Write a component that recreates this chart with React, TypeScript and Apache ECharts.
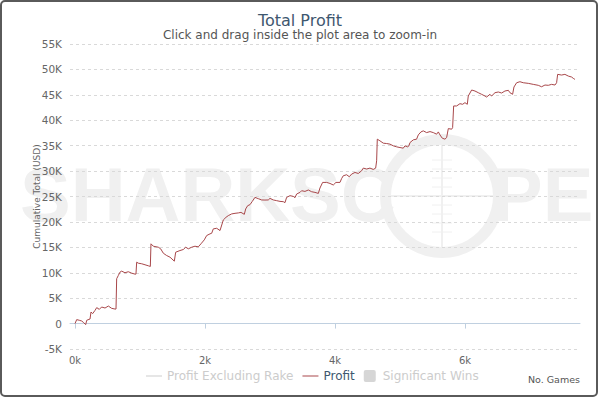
import React, { useEffect, useRef } from "react";
import * as echarts from "echarts";

const title = "Total Profit";
const subtitle = "Click and drag inside the plot area to zoom-in";
const yAxisName = "Cumulative Total (USD)";
const xAxisName = "No. Games";
const legendNames = ["Profit Excluding Rake", "Profit", "Significant Wins"];
const xTicks = [0, 2000, 4000, 6000];

const games = [
  0, 26, 66, 103, 128, 165, 180, 231, 246, 272, 308, 334, 374, 410, 462, 513, 564, 615, 631, 641,
  667, 692, 718, 769, 820, 872, 923, 938, 949, 974, 1026, 1077, 1128, 1159, 1169, 1205, 1282, 1318,
  1359, 1410, 1462, 1528, 1549, 1615, 1666, 1703, 1744, 1795, 1846, 1897, 1938, 1989, 2026, 2077,
  2103, 2128, 2180, 2231, 2282, 2323, 2359, 2410, 2462, 2513, 2554, 2605, 2626, 2657, 2692, 2728,
  2769, 2820, 2872, 2923, 2974, 3000, 3051, 3103, 3154, 3205, 3231, 3256, 3308, 3359, 3385, 3410,
  3462, 3487, 3538, 3590, 3641, 3692, 3744, 3769, 3810, 3872, 3923, 3974, 4015, 4077, 4103, 4128,
  4179, 4220, 4257, 4308, 4359, 4410, 4436, 4487, 4538, 4590, 4626, 4641, 4651, 4692, 4744, 4795,
  4846, 4897, 4949, 5000, 5051, 5077, 5118, 5138, 5154, 5205, 5256, 5282, 5323, 5359, 5410, 5462,
  5513, 5564, 5590, 5615, 5651, 5692, 5718, 5744, 5795, 5810, 5826, 5872, 5923, 5964, 6000, 6036,
  6051, 6103, 6154, 6205, 6256, 6308, 6333, 6385, 6410, 6462, 6513, 6564, 6615, 6667, 6692, 6733,
  6754, 6795, 6846, 6897, 6974, 7051, 7128, 7179, 7231, 7282, 7333, 7385, 7410, 7426, 7487, 7538,
  7590, 7641, 7667, 7692,
];

const profit = [
  0, 780, 650, 510, 250, -200, 650, 900, 2270, 1960, 2600, 3140, 2800, 3260, 3060, 3450, 3000, 2860,
  2860, 8820, 9470, 10120, 10320, 10000, 10200, 9920, 9730, 9730, 12080, 11880, 11770, 11570, 11370,
  11240, 15690, 15220, 15020, 14710, 13840, 13390, 13060, 12280, 14040, 14370, 14570, 15020, 14710,
  15020, 15220, 15100, 15690, 16470, 17320, 17650, 17770, 18630, 18750, 18300, 20390, 20900, 21240,
  21570, 21690, 21770, 21880, 21490, 22550, 23200, 23390, 24040, 24830, 24570, 24320, 24300, 24320,
  24630, 24320, 24180, 24040, 23980, 23790, 24830, 25160, 25020, 24770, 25490, 25810, 26140, 26000,
  26280, 25940, 25810, 25610, 26670, 27770, 27770, 27570, 27260, 27770, 27770, 28550, 29080, 29280,
  28890, 29420, 29730, 29530, 30060, 30590, 30400, 30590, 30320, 30590, 32020, 36280, 35950, 35490,
  35420, 35300, 34970, 34770, 34630, 34510, 34970, 34770, 34970, 35610, 36140, 36280, 37120, 37710,
  37910, 37570, 37770, 37570, 37260, 37710, 37120, 36470, 36280, 36590, 38360, 38240, 38550, 42810,
  42810, 43260, 43140, 43460, 43140, 44770, 45950, 45750, 45420, 45100, 44770, 44570, 45100, 44770,
  45420, 45560, 45360, 45750, 45890, 45420, 45100, 46540, 47380, 47580, 47380, 47260, 47060, 46870,
  46590, 46930, 46870, 47060, 46930, 47380, 49030, 48890, 49030, 48690, 48500, 48240, 48040,
];

const FONT = "DejaVu Sans";
const WM = "#f0f0f0";

export default function App() {
  const ref = useRef<HTMLDivElement>(null);
  useEffect(() => {
    if (!ref.current) return;
    const chart = echarts.init(ref.current, undefined, { renderer: "svg" });
    const lineData = games.map((g, i) => [g, profit[i]]);
    const reticleTicks = [-36, -27, -18, -9, 9, 18, 27, 36].map((d) => ({
      type: "line",
      z: -1,
      silent: true,
      shape: { x1: 432, y1: 196 + d, x2: 452, y2: 196 + d },
      style: { stroke: WM, lineWidth: 1 },
    }));
    chart.setOption({
      animation: false,
      backgroundColor: "#ffffff",
      title: {
        text: title,
        subtext: subtitle,
        left: "center",
        top: 6,
        itemGap: 0,
        textStyle: { fontFamily: FONT, fontSize: 16, fontWeight: "normal", color: "#3E576F", lineHeight: 18 },
        subtextStyle: { fontFamily: FONT, fontSize: 12, color: "#555555", lineHeight: 12 },
      },
      legend: {
        left: 141,
        top: 365,
        itemWidth: 16,
        itemHeight: 12,
        itemGap: 9,
        inactiveColor: "#cccccc",
        textStyle: { fontFamily: FONT, fontSize: 12, color: "#3E576F" },
        selected: { [legendNames[0]]: false, [legendNames[2]]: false },
        data: [
          { name: legendNames[0], icon: "path://M0,0H16V1H0Z" },
          { name: legendNames[1], icon: "path://M0,0H16V1H0Z" },
          { name: legendNames[2], icon: "path://M2,0H10Q12,0 12,2V10Q12,12 10,12H2Q0,12 0,10V2Q0,0 2,0Z" },
        ],
      },
      grid: { left: 70, right: 20, top: 44, bottom: 49, containLabel: false },
      xAxis: {
        type: "value",
        min: -77,
        max: 7770,
        splitLine: { show: false },
        axisLine: { show: true, lineStyle: { color: "#C0D0E0", width: 1 } },
        axisTick: { show: true, length: 5, customValues: xTicks, lineStyle: { color: "#C0D0E0" } },
        axisLabel: {
          customValues: xTicks,
          margin: 6,
          fontFamily: FONT,
          fontSize: 10,
          color: "#666666",
          formatter: (v: number) => `${v / 1000}k`,
        },
      },
      yAxis: {
        type: "value",
        min: -5000,
        max: 55000,
        interval: 5000,
        name: yAxisName,
        nameLocation: "middle",
        nameRotate: 90,
        nameGap: 29,
        nameMoveOverlap: false,
        nameTextStyle: { fontFamily: FONT, fontSize: 9, color: "#666666" },
        axisLine: { show: false },
        axisTick: { show: false },
        axisLabel: {
          margin: 8,
          fontFamily: FONT,
          fontSize: 10.5,
          color: "#666666",
          formatter: (v: number) => (v === 0 ? "0" : `${v / 1000}K`),
        },
        splitLine: { show: true, lineStyle: { color: "#d9d9d9", type: [3, 3], width: 1 } },
      },
      series: [
        {
          name: legendNames[0],
          type: "line",
          symbol: "none",
          data: lineData,
          lineStyle: { color: "#999999", width: 1 },
          itemStyle: { color: "#999999" },
        },
        {
          name: legendNames[1],
          type: "line",
          symbol: "none",
          data: lineData,
          lineStyle: { color: "#A8474A", width: 1 },
          itemStyle: { color: "#A8474A" },
          z: 3,
        },
        {
          name: legendNames[2],
          type: "scatter",
          data: [],
          itemStyle: { color: "#bbbbbb" },
        },
      ],
      graphic: [
        {
          type: "text",
          z: -1,
          silent: true,
          left: 20,
          top: 156,
          style: { text: "SHARK", fontFamily: "Liberation Sans", fontWeight: "bold", fontSize: 76, fill: WM },
        },
        {
          type: "text",
          z: -1,
          silent: true,
          left: 290,
          top: 156,
          style: { text: "SC", fontFamily: "Liberation Sans", fontWeight: "bold", fontSize: 76, fill: WM },
        },
        {
          type: "ring",
          z: -1,
          silent: true,
          shape: { cx: 442, cy: 196, r: 62, r0: 51 },
          style: { fill: WM },
        },
        {
          type: "line",
          z: -1,
          silent: true,
          shape: { x1: 442, y1: 145, x2: 442, y2: 247 },
          style: { stroke: WM, lineWidth: 2 },
        },
        {
          type: "line",
          z: -1,
          silent: true,
          shape: { x1: 391, y1: 196, x2: 493, y2: 196 },
          style: { stroke: WM, lineWidth: 2 },
        },
        ...reticleTicks,
        {
          type: "text",
          z: -1,
          silent: true,
          left: 492,
          top: 156,
          style: { text: "PE", fontFamily: "Liberation Sans", fontWeight: "bold", fontSize: 76, fill: WM },
        },
        {
          type: "text",
          silent: true,
          x: 580,
          y: 379,
          style: {
            text: xAxisName,
            fontFamily: FONT,
            fontSize: 9.5,
            fill: "#555555",
            align: "right",
            verticalAlign: "middle",
          },
        },
        {
          type: "rect",
          silent: true,
          z: 100,
          shape: { x: 1, y: 1, width: 596, height: 395, r: 4 },
          style: { fill: "none", stroke: "#5a5a5a", lineWidth: 2 },
        },
      ],
    });
    return () => chart.dispose();
  }, []);
  return (
    <div
      ref={ref}
      style={{ position: "fixed", left: 0, top: 0, width: 600, height: 398 }}
    />
  );
}
